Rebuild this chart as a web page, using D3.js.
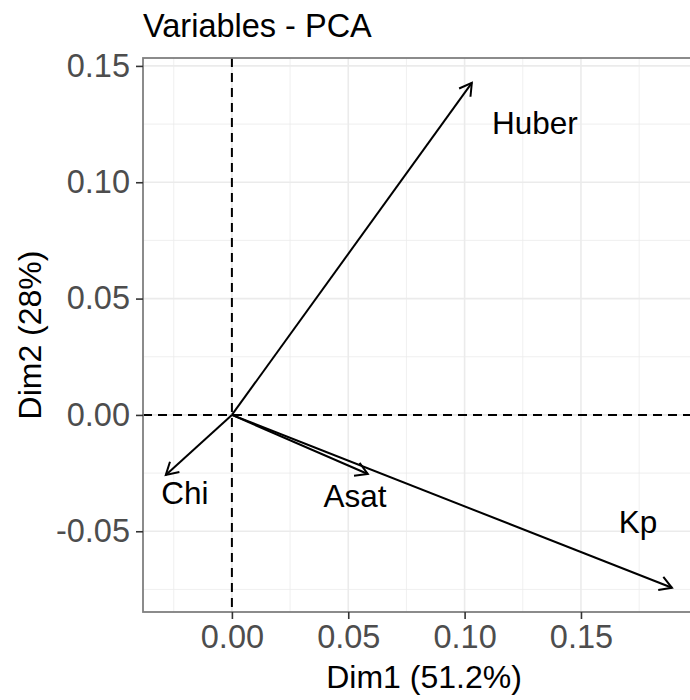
<!DOCTYPE html>
<html><head><meta charset="utf-8">
<script src="https://cdn.jsdelivr.net/npm/d3@7/dist/d3.min.js"></script>
<style>body{margin:0;background:#fff}svg{display:block}text{font-family:"Liberation Sans",Arial,sans-serif}</style>
</head><body><div id="chart"></div>
<script>
const variables = ["Huber","Chi","Asat","Kp"];
const dim1 = [0.1031,-0.0284,0.0584,0.1891];
const dim2 = [0.1427,-0.0258,-0.0254,-0.0743];
const labelX = [0.1302,-0.0202,0.0529,0.1745];
const labelY = [0.1255,-0.0335,-0.0348,-0.0460];
const xTicks = [0,0.05,0.10,0.15];
const yTicks = [-0.05,0,0.05,0.10,0.15];
const xMinor = [-0.025,0.025,0.075,0.125,0.175];
const yMinor = [-0.075,-0.025,0.025,0.075,0.125];
const title = "Variables - PCA";
const xTitle = "Dim1 (51.2%)";
const yTitle = "Dim2 (28%)";

const W=690,H=700;
const pl=143,pr=705,pt=58,pb=612;
const svg=d3.select("#chart").append("svg").attr("width",W).attr("height",H);
const x=d3.scaleLinear().domain([-0.0382,0.2033]).range([pl,pr]);
const y=d3.scaleLinear().domain([-0.0847,0.1534]).range([pb,pt]);
const fmt=d=>d3.format(".2f")(d).replace("\u2212","-");

const g=svg.append("g");
g.selectAll(".xm").data(xMinor).join("line").attr("x1",d=>x(d)).attr("x2",d=>x(d)).attr("y1",pt).attr("y2",pb).attr("stroke","#ebebeb").attr("stroke-width",0.8);
g.selectAll(".ym").data(yMinor).join("line").attr("y1",d=>y(d)).attr("y2",d=>y(d)).attr("x1",pl).attr("x2",pr).attr("stroke","#ebebeb").attr("stroke-width",0.8);
g.selectAll(".xg").data(xTicks).join("line").attr("x1",d=>x(d)).attr("x2",d=>x(d)).attr("y1",pt).attr("y2",pb).attr("stroke","#ebebeb").attr("stroke-width",1.6);
g.selectAll(".yg").data(yTicks).join("line").attr("y1",d=>y(d)).attr("y2",d=>y(d)).attr("x1",pl).attr("x2",pr).attr("stroke","#ebebeb").attr("stroke-width",1.6);

g.append("line").attr("x1",x(0)).attr("x2",x(0)).attr("y1",pt).attr("y2",pb).attr("stroke","#000").attr("stroke-width",2).attr("stroke-dasharray","9,6");
g.append("line").attr("y1",y(0)).attr("y2",y(0)).attr("x1",pl).attr("x2",pr).attr("stroke","#000").attr("stroke-width",2).attr("stroke-dasharray","9,6");

svg.append("defs").append("marker").attr("id","ah").attr("markerUnits","userSpaceOnUse")
  .attr("markerWidth",30).attr("markerHeight",30).attr("refX",15).attr("refY",15).attr("orient","auto")
  .append("path").attr("d","M3,8 L15,15 L3,22").attr("fill","none").attr("stroke","#000").attr("stroke-width",2);
g.selectAll(".arr").data(variables).join("line")
  .attr("x1",x(0)).attr("y1",y(0)).attr("x2",(d,i)=>x(dim1[i])).attr("y2",(d,i)=>y(dim2[i]))
  .attr("stroke","#000").attr("stroke-width",2).attr("marker-end","url(#ah)");
g.selectAll(".lab").data(variables).join("text")
  .attr("x",(d,i)=>x(labelX[i])).attr("y",(d,i)=>y(labelY[i])).attr("dy","0.35em")
  .attr("text-anchor","middle").attr("font-size",31.5).attr("fill","#000").text(d=>d);

svg.append("rect").attr("x",pl).attr("y",pt).attr("width",pr-pl).attr("height",pb-pt).attr("fill","none").attr("stroke","#7f7f7f").attr("stroke-width",1.8);

const xa=svg.append("g").attr("transform",`translate(0,${pb})`).call(d3.axisBottom(x).tickValues(xTicks).tickFormat(fmt).tickSize(7).tickPadding(6));
const ya=svg.append("g").attr("transform",`translate(${pl},0)`).call(d3.axisLeft(y).tickValues(yTicks).tickFormat(fmt).tickSize(7).tickPadding(6));
[xa,ya].forEach(a=>{a.select(".domain").remove();a.selectAll("line").attr("stroke","#333").attr("stroke-width",1.6);
  a.selectAll("text").attr("font-size",32.5).attr("fill","#4d4d4d").attr("font-family","Liberation Sans, Arial, sans-serif");});

svg.append("text").attr("x",pl).attr("y",37).attr("font-size",32.5).attr("fill","#000").text(title);
svg.append("text").attr("x",(pl+pr)/2).attr("y",688).attr("text-anchor","middle").attr("font-size",32).attr("fill","#000").text(xTitle);
svg.append("text").attr("transform",`translate(41,${(pt+pb)/2}) rotate(-90)`).attr("text-anchor","middle").attr("font-size",32).attr("fill","#000").text(yTitle);
</script></body></html>
